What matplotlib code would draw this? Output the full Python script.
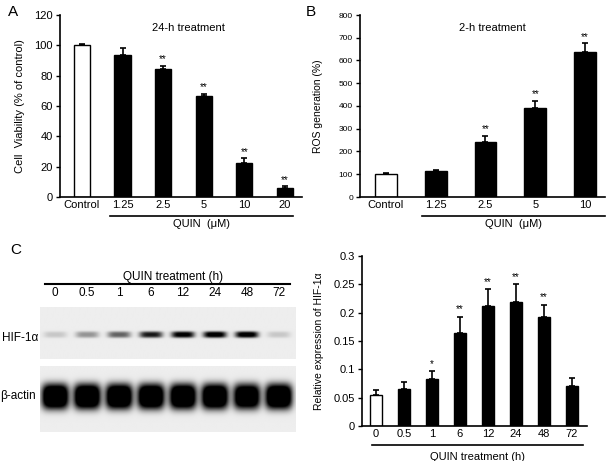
import numpy as np
import matplotlib
matplotlib.use("Agg")
import matplotlib.pyplot as plt

plt.rcParams['font.family'] = ['Liberation Sans', 'DejaVu Sans']

# panel A: cell viability, 24-h treatment
a_labels = ["Control", "1.25", "2.5", "5", "10", "20"]
a_values = [100, 93.5, 84.5, 66.5, 22.5, 6]
a_errors = [1, 4.5, 2, 1.5, 3, 1]
a_stars = ["", "", "**", "**", "**", "**"]

# panel B: ROS generation, 2-h treatment
b_labels = ["Control", "1.25", "2.5", "5", "10"]
b_values = [100, 115, 240, 390, 638]
b_errors = [5, 5, 28, 32, 37]
b_stars = ["", "", "**", "**", "**"]

# panel C: HIF-1a relative expression
c_labels = ["0", "0.5", "1", "6", "12", "24", "48", "72"]
c_values = [0.054, 0.066, 0.083, 0.165, 0.211, 0.218, 0.192, 0.070]
c_errors = [0.010, 0.011, 0.014, 0.028, 0.030, 0.032, 0.022, 0.014]
c_stars = ["", "", "*", "**", "**", "**", "**", ""]

# western blot band darkness per lane
hif_bands = [0.15, 0.35, 0.55, 0.85, 1.0, 1.05, 1.05, 0.15]
actin_bands = [1.5, 1.5, 1.5, 1.5, 1.5, 1.5, 1.4, 1.5]

W, H = 610, 461
fig = plt.figure(figsize=(W / 100, H / 100), dpi=100)


def box(l, t, r, b):
    return [l / W, 1 - b / H, (r - l) / W, (b - t) / H]


def bar_panel(ax, labels, values, errors, stars, width, ymax, yticks, tick_fs, star_off):
    x = np.arange(len(values))
    colors = ["white"] + ["black"] * (len(values) - 1)
    ax.bar(x, values, width, color=colors, edgecolor="black", linewidth=1.0, zorder=2)
    ax.errorbar(x, values, yerr=[np.zeros(len(errors)), errors], fmt="none",
                ecolor="black", elinewidth=1.2, capsize=2.5, capthick=1.2, zorder=1)
    for xi, v, e, s in zip(x, values, errors, stars):
        if s:
            ax.text(xi, v + e + star_off, s, ha="center", va="bottom", fontsize=7)
    ax.set_ylim(0, ymax)
    ax.set_yticks(yticks)
    ax.set_xticks(x)
    ax.set_xticklabels(labels, fontsize=8)
    ax.tick_params(axis="x", length=0, pad=2)
    ax.tick_params(axis="y", length=3, width=1, labelsize=tick_fs, pad=2)
    for sp in ["top", "right"]:
        ax.spines[sp].set_visible(False)
    for sp in ["left", "bottom"]:
        ax.spines[sp].set_linewidth(1.2)


def under_line(ax, x0, x1, y, text, ty):
    ax.plot([x0, x1], [y, y], transform=ax.transAxes, color="black", lw=1.2, clip_on=False)
    ax.text((x0 + x1) / 2, ty, text, transform=ax.transAxes, ha="center", va="center", fontsize=8)


# ---- panel A ----
axA = fig.add_axes(box(60, 15, 302, 197))
bar_panel(axA, a_labels, a_values, a_errors, a_stars, 0.4, 120, range(0, 121, 20), 8, 1)
axA.set_xlim(-0.54, 5.42)
axA.set_ylabel("Cell  Viability (% of control)", fontsize=8)
axA.yaxis.set_label_coords(-35 / 242, 0.5)
axA.text(0.53, 0.93, "24-h treatment", transform=axA.transAxes, ha="center", va="center", fontsize=8)
under_line(axA, (110 - 60) / 242, (293 - 60) / 242, -19 / 182, "QUIN  (\u03bcM)", -27 / 182)
fig.text(8 / W, 1 - 12 / H, "A", fontsize=11, va="center")

# ---- panel B ----
axB = fig.add_axes(box(360, 15, 605, 197))
bar_panel(axB, b_labels, b_values, b_errors, b_stars, 0.44, 800, range(0, 801, 100), 6, 8)
axB.set_xlim(-0.52, 4.4)
axB.set_ylabel("ROS generation (%)", fontsize=7.5)
axB.yaxis.set_label_coords(-37 / 245, 0.5)
axB.text(0.54, 0.93, "2-h treatment", transform=axB.transAxes, ha="center", va="center", fontsize=8)
under_line(axB, (422 - 360) / 245, 1.0, -19 / 182, "QUIN  (\u03bcM)", -27 / 182)
fig.text(306 / W, 1 - 12 / H, "B", fontsize=11, va="center")

# ---- panel C chart ----
axC = fig.add_axes(box(362, 256, 587, 426))
bar_panel(axC, c_labels, c_values, c_errors, c_stars, 0.45, 0.3,
          [0, 0.05, 0.1, 0.15, 0.2, 0.25, 0.3], 8, 0.004)
axC.set_yticklabels(["0", "0.05", "0.1", "0.15", "0.2", "0.25", "0.3"])
axC.set_xlim(-0.5, 7.54)
axC.set_ylabel("Relative expression of HIF-1\u03b1", fontsize=7.5)
axC.yaxis.set_label_coords(-38 / 225, 0.5)
under_line(axC, (372 - 362) / 225, (583 - 362) / 225, -19 / 170, "QUIN treatment (h)", -31 / 170)
fig.text(10 / W, 1 - 250 / H, "C", fontsize=11, va="center")


# ---- western blot ----
def blot_image(bands, yc, sx, sy):
    xs = np.linspace(-0.47, 7.53, 400)
    ys = np.linspace(0, 1, 120)
    X, Y = np.meshgrid(xs, ys)
    dark = np.zeros_like(X)
    for i, b in enumerate(bands):
        dark += b * np.exp(-np.abs((X - i) / sx) ** 4 - np.abs((Y - yc) / sy) ** 3)
    return np.clip(0.93 - dark, 0, 1)


ax_hif = fig.add_axes(box(40, 307, 296, 359))
ax_hif.imshow(blot_image(hif_bands, 0.54, 0.36, 0.06), cmap="gray", vmin=0, vmax=1,
              extent=[-0.47, 7.53, 1, 0], aspect="auto", interpolation="bilinear")
ax_hif.set_xlim(-0.47, 7.53)
ax_hif.set_ylim(1, 0)
ax_hif.xaxis.tick_top()
ax_hif.set_xticks(range(len(c_labels)))
ax_hif.set_xticklabels(c_labels, fontsize=8.5)
ax_hif.tick_params(axis="x", length=0, pad=6)
ax_hif.set_yticks([])
for sp in ax_hif.spines.values():
    sp.set_visible(False)
ax_hif.plot([(45 - 40) / 256, (290 - 40) / 256], [1 + 23 / 52, 1 + 23 / 52],
            transform=ax_hif.transAxes, color="black", lw=1.5, clip_on=False)
ax_hif.text((173 - 40) / 256, 1 + 30 / 52, "QUIN treatment (h)", transform=ax_hif.transAxes,
            ha="center", va="center", fontsize=8.5)
fig.text(38 / W, 1 - 338 / H, "HIF-1\u03b1", fontsize=8.5, va="center", ha="right")

ax_act = fig.add_axes(box(40, 366, 296, 432))
ax_act.imshow(blot_image(actin_bands, 0.47, 0.42, 0.19), cmap="gray", vmin=0, vmax=1,
              extent=[-0.47, 7.53, 1, 0], aspect="auto", interpolation="bilinear")
ax_act.set_xlim(-0.47, 7.53)
ax_act.set_ylim(1, 0)
ax_act.set_xticks([])
ax_act.set_yticks([])
for sp in ax_act.spines.values():
    sp.set_visible(False)
fig.text(0 / W, 1 - 396 / H, "\u03b2-actin", fontsize=8.5, va="center")

fig.savefig("out.png", dpi=100)
